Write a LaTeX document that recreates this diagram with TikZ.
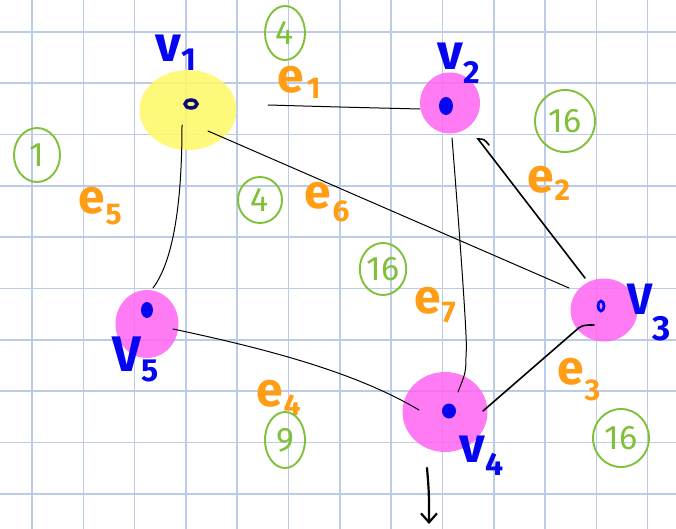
\documentclass[tikz,border=0pt]{standalone}
\usepackage{fontspec}
\setmainfont{Fira Sans}
\usetikzlibrary{shapes.geometric,arrows.meta,calc}

\definecolor{gridblue}{RGB}{188,204,232}
\definecolor{blobyellow}{RGB}{255,249,100}
\definecolor{blobpink}{RGB}{255,100,243}
\definecolor{inkblue}{RGB}{5,5,240}
\definecolor{inknavy}{RGB}{10,10,120}
\definecolor{inkorange}{RGB}{255,158,20}
\definecolor{inkgreen}{RGB}{128,192,58}

% lowered subscript digit of a hand-written label
\newcommand\lowsub[3][32]{\raisebox{-#2}{\fontsize{#1}{#1}\selectfont #3}}

\tikzset{
  gridline/.style={draw=gridblue, line width=1.6pt},
  blob/.style={ellipse, inner sep=0pt, fill opacity=0.85},
  yblob/.style={blob, fill=blobyellow},
  pblob/.style={blob, fill=blobpink},
  edge/.style={draw=black, line width=1pt, line cap=round},
  vlab/.style={text=inkblue, anchor=base west, inner sep=0pt,
    font=\fontsize{50}{50}\selectfont\bfseries},
  elab/.style={text=inkorange, anchor=base west, inner sep=0pt,
    font=\fontsize{48}{48}\selectfont\bfseries},
  weight/.style={ellipse, draw=inkgreen, line width=1.9pt, text=inkgreen,
    inner sep=0pt, font=\fontsize{34}{34}\selectfont\mdseries},
}

\begin{document}
\begin{tikzpicture}[x=1pt, y=-1pt]
  \useasboundingbox (0,0) rectangle (676,529);
  \fill[white] (0,0) rectangle (676,529);

  % squared paper
  \foreach \i in {0,...,12} \draw[gridline] (32+51.3*\i,0) -- ++(0,529);
  \foreach \i in {0,...,9}  \draw[gridline] (0,32+51.3*\i) -- ++(676,0);

  % vertices
  \node[yblob, minimum width=97pt, minimum height=80pt] (v1) at (188,110) {};
  \node[pblob, minimum width=60pt, minimum height=61pt] (v2) at (450,103) {};
  \node[pblob, minimum width=67pt, minimum height=63pt] (v3) at (604,310) {};
  \node[pblob, minimum width=85pt, minimum height=80pt] (v4) at (445,412) {};
  \node[pblob, minimum width=63pt, minimum height=68pt] (v5) at (147,324) {};

  % pen dots in the vertices
  \draw[inknavy, line width=3.5pt] ($(v1)+(3,-6)$) ellipse [x radius=6pt, y radius=4pt];
  \fill[inkblue] ($(v2)+(-4,3)$) ellipse [x radius=7pt, y radius=9pt];
  \draw[inkblue, line width=2.8pt] ($(v3)+(-3,-4)$) ellipse [x radius=3pt, y radius=5pt];
  \fill[inkblue] ($(v4)+(4,-1)$) ellipse [x radius=7pt, y radius=7.5pt];
  \fill[inkblue] ($(v5)+(0,-14)$) ellipse [x radius=6pt, y radius=8pt];

  % edges
  \draw[edge] ($(v1)+(80,-5)$) .. controls ($(v1)+(150,-3)$) .. ($(v2)+(-30,6)$);
  \draw[edge] ($(v1)+(20,21)$) -- ($(v3)+(-35,-22)$);
  \draw[edge] ($(v1)+(-6,15)$) .. controls ($(v1)+(-6,90)$) and ($(v1)+(-14,150)$) .. ($(v5)+(6,-36)$);
  \draw[edge] ($(v2)+(2,35)$) .. controls ($(v2)+(12,160)$) and ($(v2)+(18,250)$) .. ($(v4)+(21,-60)$)
              .. controls ($(v4)+(21,-40)$) .. ($(v4)+(13,-20)$);
  \draw[edge, line width=1.6pt] ($(v2)+(39,42)$) .. controls ($(v2)+(34,36)$) .. ($(v2)+(28,36)$)
              -- ($(v3)+(-19,-32)$);
  \draw[edge, line width=1.6pt] ($(v3)+(-10,15)$) .. controls ($(v3)+(-22,15)$) .. ($(v3)+(-30,22)$)
              -- ($(v4)+(38,-1)$);
  \draw[edge] ($(v5)+(26,5)$) .. controls ($(v5)+(120,25)$) and ($(v4)+(-90,-40)$) .. ($(v4)+(-26,-2)$);

  % outgoing arrow below v4
  \coordinate (out) at ($(v4)+(-16,112)$);
  \draw[edge, line width=2.2pt, -{Straight Barb[length=9pt,width=16pt]}]
    ($(v4)+(-18,56)$) .. controls ($(v4)+(-16,80)$) .. (out);

  % vertex labels
  \node[vlab] (l1) at (155,62)  {v\kern1pt\lowsub{9pt}{1}};
  \node[vlab] (l2) at (437,70)  {v\kern1pt\lowsub{14pt}{2}};
  \node[vlab, font=\fontsize{44}{44}\selectfont\bfseries] (l3) at (627,314)
    {V\kern0pt\lowsub[35]{26pt}{3}};
  \node[vlab] (l4) at (459,462) {v\kern1pt\lowsub{13pt}{4}};
  \node[vlab] (l5) at (112,371) {V\kern1pt\lowsub{10pt}{5}};

  % edge labels
  \node[elab] (n1) at (277,93)  {e\kern3pt\lowsub[30]{6pt}{1}};
  \node[elab] (n2) at (527,193) {e\kern1pt\lowsub[30]{8pt}{2}};
  \node[elab] (n3) at (557,384) {e\kern1pt\lowsub[30]{16pt}{3}};
  \node[elab] (n4) at (256,406) {e\kern1pt\lowsub[30]{9pt}{4}};
  \node[elab] (n5) at (78,213)  {e\kern1pt\lowsub[30]{11pt}{5}};
  \node[elab] (n6) at (304,208) {e\kern2pt\lowsub[30]{13pt}{6}};
  \node[elab] (n7) at (414,313) {e\kern1pt\lowsub[30]{9pt}{7}};

  % circled weights
  \node[weight, minimum width=40pt, minimum height=54pt] (w1) at (285,33)  {4};
  \node[weight, minimum width=60pt, minimum height=62pt] (w2) at (565,121) {16};
  \node[weight, minimum width=46pt, minimum height=54pt] (w3) at (37,155)  {1};
  \node[weight, minimum width=44pt, minimum height=46pt] (w4) at (260,200) {4};
  \node[weight, minimum width=46pt, minimum height=52pt] (w5) at (383,269) {16};
  \node[weight, minimum width=40pt, minimum height=56pt] (w6) at (285,440) {9};
  \node[weight, minimum width=56pt, minimum height=58pt] (w7) at (621,438) {16};
\end{tikzpicture}
\end{document}
